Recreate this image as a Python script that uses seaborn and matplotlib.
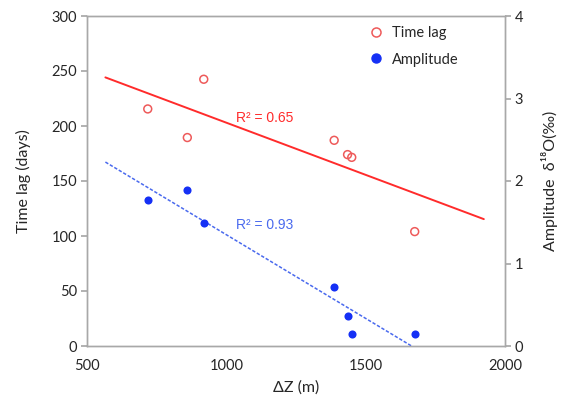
import numpy as np
import pandas as pd
import seaborn as sns
import matplotlib
matplotlib.use("Agg")
import matplotlib.pyplot as plt
from matplotlib.lines import Line2D

# ---- data ----
dz = [718, 860, 919, 1387, 1435, 1450, 1676]
time_lag = [215.5, 189.5, 242.5, 187, 174, 171.5, 104]
amplitude = [1.77, 1.89, 1.49, 0.72, 0.36, 0.14, 0.14]
r2_labels = ["R² = 0.65", "R² = 0.93"]
trend_x_range = [566, 1924]
x_ticks = [500, 1000, 1500, 2000]
left_ticks = [0, 50, 100, 150, 200, 250, 300]
right_ticks = [0, 1, 2, 3, 4]
series_names = ["Time lag", "Amplitude"]

sns.set_theme(style="white")
plt.rcParams["font.family"] = ["Lato", "DejaVu Sans"]

RED = "#FF2B2B"
RED_PT = "#EE5A5A"
BLUE = "#1530F5"
BLUE_LINE = "#4A6AEE"
GRAY = "#A8A8A8"
TXT = "#262626"

df = pd.DataFrame({"dz": dz, "lag": time_lag, "amp": amplitude})

fig = plt.figure(figsize=(5.64, 3.97), dpi=100)
ax = fig.add_axes([87 / 564, 51 / 397, (505 - 87) / 564, (346 - 16) / 397])
ax2 = ax.twinx()

# trend lines (least squares fits)
xs = np.linspace(trend_x_range[0], trend_x_range[1], 200)
p_lag = np.polyfit(df["dz"], df["lag"], 1)
p_amp = np.polyfit(df["dz"], df["amp"], 1)
x_zero = -p_amp[1] / p_amp[0]
xs_amp = np.linspace(trend_x_range[0], min(trend_x_range[1], x_zero), 200)
sns.lineplot(x=xs, y=np.polyval(p_lag, xs), ax=ax, color=RED, lw=1.4, zorder=2)
sns.lineplot(x=xs_amp, y=np.polyval(p_amp, xs_amp), ax=ax2, color=BLUE_LINE,
             lw=1.1, linestyle=(0, (2.2, 1.2)), zorder=2)

sns.scatterplot(data=df, x="dz", y="lag", ax=ax, marker="o", s=32,
                facecolor="none", edgecolor=RED_PT, linewidth=1.1, zorder=3)
sns.scatterplot(data=df, x="dz", y="amp", ax=ax2, marker="o", s=34,
                color=BLUE, edgecolor=BLUE, linewidth=0, zorder=3)

ax.set_xlim(500, 2000)
ax.set_ylim(0, 300)
ax2.set_ylim(0, 4)
ax.set_xticks(x_ticks)
ax.set_yticks(left_ticks)
ax2.set_yticks(right_ticks)

for a in (ax, ax2):
    for s in a.spines.values():
        s.set_color(GRAY)
        s.set_linewidth(1.0)
ax.tick_params(axis="y", direction="out", length=4, color=GRAY, labelsize=10.5,
               labelcolor=TXT, pad=3)
ax.tick_params(axis="x", direction="in", length=4, color=GRAY, labelsize=10.5,
               labelcolor=TXT, pad=9)
ax2.tick_params(axis="y", direction="out", length=4, color=GRAY, labelsize=10.5,
                labelcolor=TXT, pad=3)

ax.set_xlabel("ΔZ (m)", fontsize=11.5, color=TXT, labelpad=6)
ax.set_ylabel("Time lag (days)", fontsize=11.5, color=TXT, labelpad=15)
ax2.set_ylabel("Amplitude  δ¹⁸O(‰)", fontsize=11.5, color=TXT, labelpad=13)

ax.text(1033, 207, r2_labels[0], color=RED, fontsize=10,
        family=["Liberation Sans", "DejaVu Sans"], va="center")
ax2.text(1033, 1.47, r2_labels[1], color=BLUE_LINE, fontsize=10,
         family=["Liberation Sans", "DejaVu Sans"], va="center")

handles = [
    Line2D([], [], marker="o", linestyle="none", markerfacecolor="none",
           markeredgecolor=RED_PT, markeredgewidth=1.1, markersize=6.5),
    Line2D([], [], marker="o", linestyle="none", markerfacecolor=BLUE,
           markeredgecolor=BLUE, markersize=6.5),
]
leg = ax.legend(handles, series_names, loc="upper left", frameon=False,
                fontsize=10.5, bbox_to_anchor=(0.645, 1.0), handletextpad=0.5,
                labelspacing=0.85, borderaxespad=0.3, handlelength=1.2)
for t in leg.get_texts():
    t.set_color(TXT)

fig.savefig("out.png", dpi=100)
